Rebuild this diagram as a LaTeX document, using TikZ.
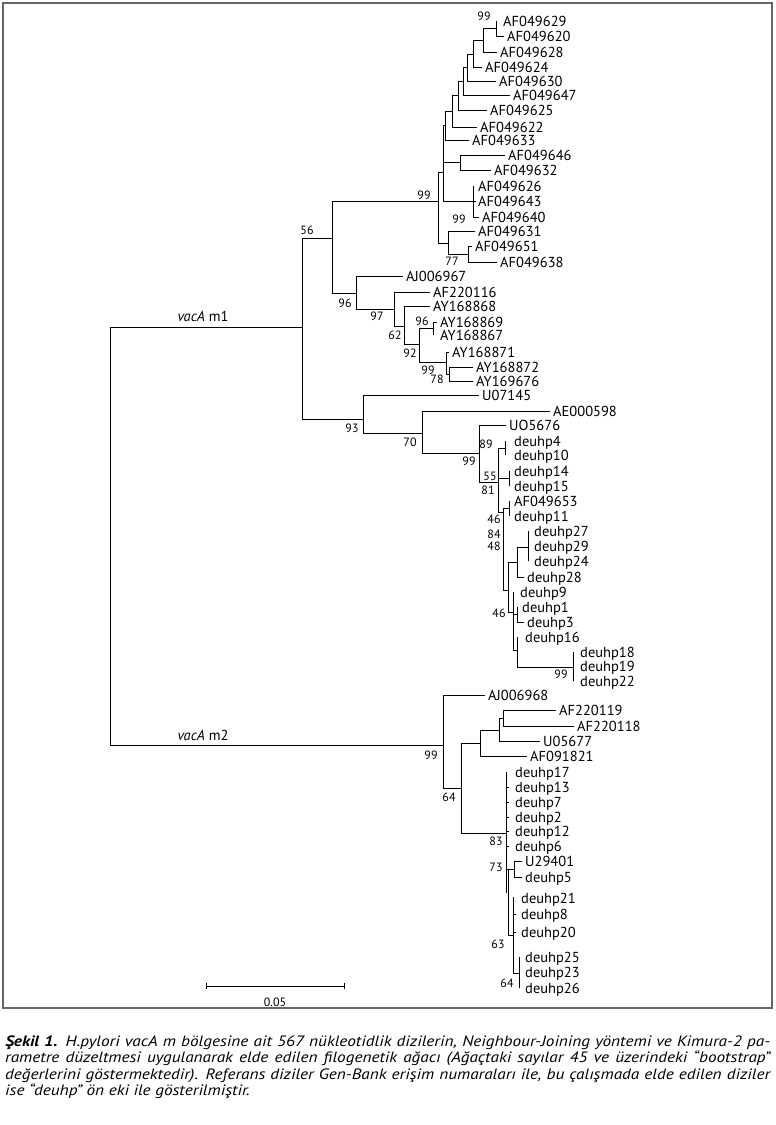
\documentclass[tikz,border=0pt]{standalone}
\usepackage{fontspec}
\setmainfont{PT Sans}
\newfontfamily\capfont[FakeStretch=1.15]{PT Sans}
\newcommand\tipl[4]{\node[lab] (L#4) at (#3,#2) {#4}; \draw[br] (#1,#2) -- ([xshift=-3pt]L#4.west);}
\newcommand\tipz[3]{\node[lab] (L#3) at (#2,#1) {#3};}
\newcommand\tipk[4]{\node[lab] (L#4) at (#3,#2) {#4}; \draw[br] (#1,#2) -- ++(3,0);}
\begin{document}
\begin{tikzpicture}[x=1pt,y=-1pt,
  br/.style={line width=0.9pt, line cap=rect},
  lab/.style={anchor=west, inner sep=0pt, text height=10pt, text depth=0pt, font=\fontsize{14.5}{16}\selectfont},
  bs/.style={inner sep=0pt, font=\fontsize{12}{13}\selectfont},
  grp/.style={inner sep=0pt, font=\fontsize{14.5}{16}\selectfont},
  captext/.style={anchor=base west, inner sep=0pt, font=\capfont\itshape\fontsize{15}{16}\selectfont}]
\useasboundingbox (0,0) rectangle (776,1125);
\draw[line width=2pt, black!60] (3,3) rectangle (772,1008);

% ---- root
\draw[br] (110,327) -- (110,745);
\draw[br] (110,327) -- (302,327);
\draw[br] (110,745) -- (443,745);
\node[grp] (m1) at (203,316) {\textit{vacA} m1};
\node[grp] (m2) at (203,735) {\textit{vacA} m2};

% ---- m1 backbone
\draw[br] (302,238) -- (302,419);
\draw[br] (302,238) -- (332,238);
\draw[br] (302,419) -- (363,419);
\draw[br] (332,201) -- (332,293);
\draw[br] (332,201) -- (438,201);

% ---- AF0496 clade
\draw[br] (438,172) -- (438,243);
\draw[br] (438,172) -- (443,172);
\draw[br] (438,243) -- (448,243);
\draw[br] (443,125) -- (443,201);
\draw[br] (443,162) -- (460,162);
\draw[br] (443,201) -- (473,201);
\draw[br] (443,125) -- (445,125);
\draw[br] (445,111) -- (445,140);
\draw[br] (445,111) -- (452,111);
\draw[br] (452,95) -- (452,127);
\draw[br] (452,95) -- (458,95);
\draw[br] (458,81) -- (458,110);
\draw[br] (458,81) -- (463,81);
\draw[br] (463,67) -- (463,95);
\draw[br] (463,67) -- (467,67);
\draw[br] (467,54) -- (467,81);
\draw[br] (467,54) -- (473,54);
\draw[br] (473,40) -- (473,67);
\draw[br] (473,40) -- (483,40);
\draw[br] (483,28) -- (483,52);
\draw[br] (483,28) -- (496,28);
\draw[br] (496,21) -- (496,36);
\draw[br] (460,155) -- (460,170);
\draw[br] (473,186) -- (473,217);
\draw[br] (448,231) -- (448,254);
\draw[br] (448,254) -- (468,254);
\draw[br] (468,246) -- (468,262);

\tipz{21}{503}{AF049629}
\tipl{496}{36}{507}{AF049620}
\tipl{483}{52}{500}{AF049628}
\tipl{473}{67}{485}{AF049624}
\tipl{467}{81}{499}{AF049630}
\tipl{463}{95}{513}{AF049647}
\tipl{458}{110}{490}{AF049625}
\tipl{452}{127}{480}{AF049622}
\tipl{445}{140}{472}{AF049633}
\tipl{460}{155}{508}{AF049646}
\tipl{460}{170}{494}{AF049632}
\tipz{186}{478}{AF049626}
\tipk{473}{201}{478}{AF049643}
\tipl{473}{217}{482}{AF049640}
\tipl{448}{231}{478}{AF049631}
\tipl{468}{246}{475}{AF049651}
\tipl{468}{262}{500}{AF049638}

\node[bs] (b1) at (484,16) {99};
\node[bs] (b2) at (424,195) {99};
\node[bs] (b3) at (459,219) {99};
\node[bs] (b4) at (452,261) {77};
\node[bs] (b5) at (307,230) {56};

% ---- AY clade
\draw[br] (332,293) -- (356,293);
\draw[br] (356,276) -- (356,309);
\draw[br] (356,309) -- (394,309);
\draw[br] (394,292) -- (394,326);
\draw[br] (394,326) -- (404,326);
\draw[br] (404,306) -- (404,344);
\draw[br] (404,344) -- (419,344);
\draw[br] (419,328) -- (419,362);
\draw[br] (419,328) -- (433,328);
\draw[br] (433,322) -- (433,335);
\draw[br] (419,362) -- (446,362);
\draw[br] (446,352) -- (446,374);
\draw[br] (446,374) -- (449,374);
\draw[br] (449,367) -- (449,381);

\tipl{356}{276}{406}{AJ006967}
\tipl{394}{292}{433}{AF220116}
\tipl{404}{306}{433}{AY168868}
\tipl{433}{322}{440}{AY168869}
\tipz{335}{440}{AY168867}
\tipl{446}{352}{452}{AY168871}
\tipl{449}{367}{476}{AY168872}
\tipl{449}{381}{476}{AY169676}

\node[bs] (b6) at (345,303) {96};
\node[bs] (b7) at (377,316) {97};
\node[bs] (b8) at (395,335) {62};
\node[bs] (b9) at (422,321) {96};
\node[bs] (b10) at (410,353) {92};
\node[bs] (b11) at (428,370) {99};
\node[bs] (b12) at (437,379) {78};

% ---- U07145 / AE000598 / deuhp (m1)
\draw[br] (363,395) -- (363,433);
\draw[br] (363,433) -- (422,433);
\draw[br] (422,411) -- (422,453);
\draw[br] (422,453) -- (479,453);
\draw[br] (479,425) -- (479,482);
\draw[br] (479,482) -- (498,482);
\draw[br] (498,448) -- (498,512);
\draw[br] (498,448) -- (505,448);
\draw[br] (505,441) -- (505,455);
\draw[br] (498,478) -- (509,478);
\draw[br] (509,471) -- (509,486);
\draw[br] (498,512) -- (503,512);
\draw[br] (503,508) -- (503,590);
\draw[br] (503,508) -- (509,508);
\draw[br] (509,501) -- (509,516);
\draw[br] (503,590) -- (508,590);
\draw[br] (508,562) -- (508,612);
\draw[br] (508,562) -- (517,562);
\draw[br] (517,547) -- (517,577);
\draw[br] (517,547) -- (528,547);
\draw[br] (528,531) -- (528,561);
\draw[br] (508,612) -- (513,612);
\draw[br] (513,592) -- (513,650);
\draw[br] (513,614) -- (517,614);
\draw[br] (517,607) -- (517,622);
\draw[br] (513,650) -- (517,650);
\draw[br] (517,637) -- (517,667);
\draw[br] (517,667) -- (573,667);
\draw[br] (573,652) -- (573,681);

\tipl{363}{395}{482}{U07145}
\tipl{422}{411}{553}{AE000598}
\tipl{479}{425}{509}{UO5676}
\tipz{441}{514}{deuhp4}
\tipz{455}{514}{deuhp10}
\tipz{471}{514}{deuhp14}
\tipz{486}{514}{deuhp15}
\tipz{501}{514}{AF049653}
\tipz{516}{514}{deuhp11}
\tipz{531}{534}{deuhp27}
\tipz{546}{534}{deuhp29}
\tipz{561}{534}{deuhp24}
\tipl{517}{577}{527}{deuhp28}
\tipz{592}{520}{deuhp9}
\tipz{607}{522}{deuhp1}
\tipl{517}{622}{527}{deuhp3}
\tipz{637}{525}{deuhp16}
\tipz{652}{580}{deuhp18}
\tipz{666}{580}{deuhp19}
\tipz{681}{580}{deuhp22}

\node[bs] (b13) at (352,428) {93};
\node[bs] (b14) at (410,442) {70};
\node[bs] (b15) at (469,461) {99};
\node[bs] (b16) at (486,444) {89};
\node[bs] (b17) at (490,476) {55};
\node[bs] (b18) at (488,490) {81};
\node[bs] (b19) at (494,519) {46};
\node[bs] (b20) at (494,534) {84};
\node[bs] (b21) at (494,546) {48};
\node[bs] (b22) at (499,613) {46};
\node[bs] (b23) at (561,674) {99};

% ---- m2 clade
\draw[br] (443,695) -- (443,788);
\draw[br] (443,788) -- (461,788);
\draw[br] (461,743) -- (461,833);
\draw[br] (461,743) -- (480,743);
\draw[br] (480,730) -- (480,756);
\draw[br] (480,730) -- (499,730);
\draw[br] (499,718) -- (499,741);
\draw[br] (499,718) -- (503,718);
\draw[br] (503,710) -- (503,726);
\draw[br] (461,833) -- (506,833);
\draw[br] (506,772) -- (506,893);
\draw[br] (506,869) -- (514,869);
\draw[br] (514,861) -- (514,877);
\draw[br] (508,869) -- (508,935);
\draw[br] (508,935) -- (513,935);
\draw[br] (513,897) -- (513,973);
\draw[br] (513,973) -- (519,973);
\draw[br] (519,957) -- (519,988);

\tipl{443}{695}{488}{AJ006968}
\tipl{503}{710}{559}{AF220119}
\tipl{503}{726}{577}{AF220118}
\tipl{499}{741}{543}{U05677}
\tipl{480}{756}{530}{AF091821}
\tipz{772}{515}{deuhp17}
\tipk{506}{787}{515}{deuhp13}
\tipk{506}{802}{515}{deuhp7}
\tipk{506}{817}{515}{deuhp2}
\tipk{506}{831}{515}{deuhp12}
\tipk{506}{846}{515}{deuhp6}
\tipl{514}{861}{525}{U29401}
\tipl{514}{877}{525}{deuhp5}
\tipz{898}{521}{deuhp21}
\tipk{513}{914}{521}{deuhp8}
\tipk{513}{932}{521}{deuhp20}
\tipz{957}{525}{deuhp25}
\tipz{972}{525}{deuhp23}
\tipz{988}{525}{deuhp26}

\node[bs] (b24) at (431,755) {99};
\node[bs] (b25) at (449,797) {64};
\node[bs] (b26) at (496,841) {83};
\node[bs] (b27) at (496,867) {73};
\node[bs] (b28) at (498,944) {63};
\node[bs] (b29) at (507,983) {64};

% ---- scale bar
\coordinate (s1) at (206,986);
\coordinate (s2) at (344,986);
\draw[br] (s1) -- (s2);
\draw[br] ([yshift=-3pt]s1) -- ([yshift=3pt]s1);
\draw[br] ([yshift=-3pt]s2) -- ([yshift=3pt]s2);
\node[bs] (sc) at (275,1002) {0.05};

% ---- caption
\node[captext] (c1) at (5,1046) {\makebox[765pt][s]{\textbf{Şekil 1.} H.pylori vacA m bölgesine ait 567 nükleotidlik dizilerin, Neighbour-Joining yöntemi ve Kimura-2 pa-}};
\node[captext] (c2) at (5,1062.5) {\makebox[765pt][s]{rametre düzeltmesi uygulanarak elde edilen filogenetik ağacı (Ağaçtaki sayılar 45 ve üzerindeki “bootstrap”}};
\node[captext] (c3) at (5,1079) {\makebox[765pt][s]{değerlerini göstermektedir). Referans diziler Gen-Bank erişim numaraları ile, bu çalışmada elde edilen diziler}};
\node[captext] (c4) at (5,1095.5) {ise “deuhp” ön eki ile gösterilmiştir.};
\end{tikzpicture}
\end{document}
